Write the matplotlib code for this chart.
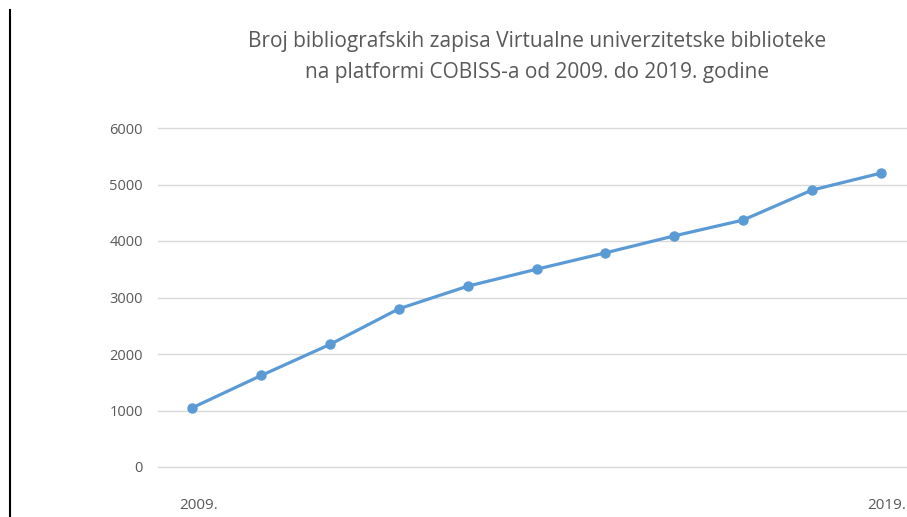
import matplotlib.pyplot as plt
from matplotlib.lines import Line2D
from matplotlib.transforms import ScaledTranslation

plt.rcParams['font.family'] = ['Open Sans', 'DejaVu Sans']

years = [2009, 2010, 2011, 2012, 2013, 2014, 2015, 2016, 2017, 2018, 2019]
records = [1050, 1620, 2170, 2800, 3200, 3500, 3790, 4090, 4370, 4900, 5200]
tick_labels = ['2009.', '', '', '', '', '', '', '', '', '', '2019.']
title = ('Broj bibliografskih zapisa Virtualne univerzitetske biblioteke\n'
         'na platformi COBISS-a od 2009. do 2019. godine')

fig = plt.figure(figsize=(9.07, 5.17), dpi=100)
ax = fig.add_axes([158/907, 1 - 467/517, (915 - 158)/907, (467 - 128)/517])

x = list(range(len(years)))
ax.plot(x, records, color='#5B9BD5', linewidth=2.3, marker='o', markersize=6.5)

ax.set_xlim(-0.5, len(years) - 0.5)
ax.set_ylim(0, 6000)
ax.set_yticks(range(0, 6001, 1000))
ax.set_xticks(x)
ax.set_xticklabels(tick_labels)
ax.grid(axis='y', color='#D9D9D9', linewidth=1)
for gl in ax.get_ygridlines():
    gl.set_clip_on(False)
ax.set_axisbelow(True)
for s in ax.spines.values():
    s.set_visible(False)
ax.tick_params(length=0, colors='#595959', labelsize=10.5)
ax.tick_params(axis='y', pad=11)
ax.tick_params(axis='x', pad=22, labelsize=11)
# nudge the category labels a little to the right, like the original
shift = ScaledTranslation(6/100, 0, fig.dpi_scale_trans)
for lbl in ax.get_xticklabels():
    lbl.set_transform(lbl.get_transform() + shift)

fig.text(537/907, 1 - 57/517, title, ha='center', va='center',
         fontsize=15, color='#595959', linespacing=1.6)

fig.add_artist(Line2D([10/907, 10/907], [0, 1 - 10/517], color='black', linewidth=1.5))

fig.savefig('out.png', dpi=100)
